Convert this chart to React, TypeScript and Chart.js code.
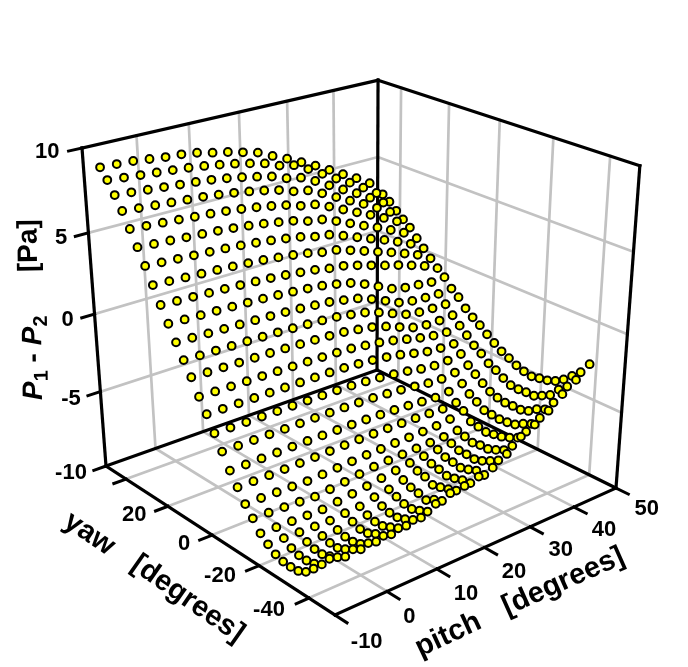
import React, { useEffect, useRef } from "react";
import { Chart, registerables } from "chart.js";

Chart.register(...registerables);

const pitchValues = [-10, -7, -4, -1, 2, 5, 8, 11, 14, 17, 20, 23, 26, 29, 32, 35, 38, 41, 44, 47];
const yawValues = [42, 39, 36, 33, 30, 27, 24, 21, 18, 15, 12, 9, 6, 3, 0, -3, -6, -9, -12, -15, -18, -21, -24, -27, -30, -33, -36, -39, -42];

const yaw42 = [9.33,9.29,9.24,9.13,9.02,8.96,8.83,8.61,8.43,8.19,7.95,7.52,7.13,6.68,6.24,5.74,5.23,4.74,4.18,3.21];
const yaw39 = [8.77,8.68,8.59,8.51,8.42,8.33,8.21,8.06,7.89,7.68,7.45,7.09,6.89,6.42,5.89,5.36,4.86,4.30,3.71,2.89];
const yaw36 = [8.08,8.00,7.91,7.83,7.74,7.66,7.55,7.41,7.24,7.04,6.82,6.48,6.28,5.84,5.33,4.83,4.35,3.82,3.26,2.47];
const yaw33 = [7.34,7.26,7.18,7.10,7.02,6.95,6.84,6.71,6.55,6.37,6.16,5.84,5.66,5.24,4.76,4.29,3.84,3.34,2.82,2.08];
const yaw30 = [6.48,6.41,6.34,6.27,6.19,6.12,6.03,5.91,5.77,5.60,5.41,5.12,4.96,4.58,4.15,3.72,3.31,2.86,2.39,1.72];
const yaw27 = [5.61,5.54,5.48,5.41,5.35,5.28,5.19,5.08,4.95,4.79,4.62,4.35,4.20,3.85,3.45,3.05,2.68,2.26,1.82,1.20];
const yaw24 = [4.71,4.65,4.59,4.53,4.47,4.41,4.33,4.23,4.11,3.97,3.81,3.57,3.43,3.11,2.75,2.40,2.06,1.68,1.28,0.72];
const yaw21 = [3.79,3.74,3.68,3.63,3.58,3.52,3.45,3.37,3.26,3.14,2.99,2.78,2.66,2.37,2.06,1.74,1.44,1.10,0.75,0.25];
const yaw18 = [2.82,2.77,2.73,2.68,2.64,2.59,2.53,2.46,2.37,2.26,2.14,1.96,1.85,1.61,1.34,1.06,0.81,0.52,0.21,-0.21];
const yaw15 = [1.92,1.88,1.84,1.81,1.77,1.73,1.68,1.62,1.54,1.45,1.35,1.17,0.96,0.61,0.18,-0.25,-0.46,-0.55,-0.66,-0.61];
const yaw12 = [1.03,1.00,0.96,0.93,0.90,0.86,0.82,0.77,0.70,0.62,0.53,0.36,0.18,-0.15,-0.55,-0.95,-1.13,-1.20,-1.24,-1.17];
const yaw9 = [0.19,0.16,0.14,0.11,0.09,0.06,0.03,-0.02,-0.07,-0.13,-0.20,-0.35,-0.51,-0.80,-1.16,-1.51,-1.66,-1.70,-1.72,-1.54];
const yaw6 = [-0.61,-0.63,-0.65,-0.68,-0.70,-0.72,-0.75,-0.79,-0.83,-0.88,-0.94,-1.08,-1.23,-1.49,-1.83,-2.16,-2.28,-2.30,-2.24,-2.07];
const yaw3 = [-1.55,-1.56,-1.58,-1.59,-1.60,-1.62,-1.64,-1.66,-1.69,-1.72,-1.77,-1.88,-2.00,-2.18,-2.40,-2.62,-2.78,-2.85,-2.72,-2.46];
const yaw0 = [-2.37,-2.38,-2.38,-2.39,-2.39,-2.40,-2.41,-2.42,-2.43,-2.46,-2.52,-2.60,-2.72,-2.88,-3.10,-3.30,-3.38,-3.41,-3.14,-2.77];
const yawM3 = [-3.28,-3.28,-3.29,-3.29,-3.30,-3.30,-3.31,-3.32,-3.33,-3.36,-3.42,-3.50,-3.60,-3.72,-3.90,-4.00,-3.98,-3.86,-3.59,-3.16];
const yawM6 = [-4.15,-4.15,-4.15,-4.15,-4.16,-4.16,-4.16,-4.17,-4.18,-4.20,-4.24,-4.30,-4.38,-4.48,-4.60,-4.65,-4.55,-4.38,-3.92,-3.52];
const yawM9 = [-5.06,-5.05,-5.04,-5.03,-5.02,-5.02,-5.02,-5.03,-5.03,-5.05,-5.08,-5.12,-5.17,-5.25,-5.32,-5.25,-5.05,-4.75,-4.34,-3.85];
const yawM12 = [-5.82,-5.82,-5.82,-5.81,-5.80,-5.78,-5.76,-5.74,-5.72,-5.72,-5.72,-5.73,-5.75,-5.78,-5.82,-5.75,-5.50,-5.11,-4.57,-4.08];
const yawM15 = [-6.59,-6.60,-6.62,-6.64,-6.67,-6.62,-6.57,-6.52,-6.47,-6.45,-6.42,-6.40,-6.38,-6.35,-6.25,-6.05,-5.78,-5.43,-4.86,-4.33];
const yawM18 = [-7.20,-7.24,-7.28,-7.33,-7.39,-7.30,-7.20,-7.08,-6.97,-6.93,-6.90,-6.87,-6.85,-6.82,-6.75,-6.50,-6.10,-5.60,-5.10,-4.50];
const yawM21 = [-7.85,-7.87,-7.89,-7.91,-7.93,-7.82,-7.70,-7.58,-7.45,-7.32,-7.20,-7.12,-7.05,-7.00,-6.90,-6.60,-6.15,-5.69,-5.13,-4.60];
const yawM24 = [-8.25,-8.27,-8.30,-8.33,-8.36,-8.28,-8.23,-8.02,-7.90,-7.67,-7.45,-7.35,-7.28,-7.20,-7.05,-6.70,-6.20,-5.66,-5.09,-4.49];
const yawM27 = [-8.58,-8.60,-8.62,-8.65,-8.67,-8.54,-8.51,-8.32,-8.10,-7.88,-7.56,-7.45,-7.35,-7.20,-6.95,-6.60,-6.15,-5.67,-5.08,-4.39];
const yawM30 = [-8.74,-8.76,-8.78,-8.80,-8.81,-8.73,-8.65,-8.47,-8.29,-7.98,-7.82,-7.60,-7.45,-7.25,-6.95,-6.50,-6.05,-5.50,-4.83,-4.20];
const yawM33 = [-8.77,-8.79,-8.81,-8.82,-8.83,-8.70,-8.64,-8.48,-8.34,-8.15,-7.70,-7.50,-7.30,-7.10,-6.75,-6.30,-5.75,-5.14,-4.55,-3.86];
const yawM36 = [-8.72,-8.68,-8.64,-8.61,-8.68,-8.45,-8.43,-8.32,-8.16,-7.85,-7.55,-7.35,-7.10,-6.85,-6.50,-6.05,-5.50,-4.90,-3.96,-3.40];
const yawM39 = [-8.47,-8.43,-8.40,-8.32,-8.34,-8.29,-8.21,-8.08,-7.94,-7.65,-7.37,-7.27,-7.12,-6.54,-5.97,-5.41,-4.87,-4.22,-3.52,-2.93];
const yawM42 = [-7.97,-7.78,-8.07,-8.02,-7.96,-7.90,-7.76,-7.65,-7.17,-6.88,-6.80,-6.58,-6.38,-5.87,-5.12,-4.70,-4.16,-3.44,-2.86,-2.18];

const surfaceRows = [yaw42,yaw39,yaw36,yaw33,yaw30,yaw27,yaw24,yaw21,yaw18,yaw15,yaw12,yaw9,yaw6,yaw3,yaw0,yawM3,yawM6,yawM9,yawM12,yawM15,yawM18,yawM21,yawM24,yawM27,yawM30,yawM33,yawM36,yawM39,yawM42];

const pitchTicks = [-10, 0, 10, 20, 30, 40, 50];
const yawTicks = [40, 20, 0, -20, -40];
const pTicks = [10, 5, 0, -5, -10];
const pitchLabels = ["-10", "0", "10", "20", "30", "40", "50"];
const yawLabels = ["20", "0", "-20", "-40"];
const pLabels = ["10", "5", "0", "-5", "-10"];

// camera: corner points of the box on the page
const floor = { x00: 106, y00: 466, x10: 377, y10: 370, x01: 335, y01: 615, x11: 616, y11: 488 };
const lift = { x: 82, y: 148, r: -0.085 };

function makeProjection() {
  const { x00, y00, x10, y10, x01, y01, x11, y11 } = floor;
  const dx1 = x10 - x11, dx2 = x01 - x11, sx = x00 - x10 + x11 - x01;
  const dy1 = y10 - y11, dy2 = y01 - y11, sy = y00 - y10 + y11 - y01;
  const det = dx1 * dy2 - dx2 * dy1;
  const g = (sx * dy2 - dx2 * sy) / det;
  const h = (dx1 * sy - sx * dy1) / det;
  const ax = x10 * (1 + g) - x00, ay = y10 * (1 + g) - y00;
  const bx = x01 * (1 + h) - x00, by = y01 * (1 + h) - y00;
  const cx = lift.x * (1 + lift.r) - x00, cy = lift.y * (1 + lift.r) - y00;
  return (pitch: number, yaw: number, p: number) => {
    const u = (pitch + 10) / 60, v = (50 - yaw) / 100, t = (p + 10) / 20;
    const w = 1 + g * u + h * v + lift.r * t;
    return { x: (x00 + ax * u + bx * v + cx * t) / w, y: (y00 + ay * u + by * v + cy * t) / w };
  };
}
const project = makeProjection();

const GREY = "#c2c2c2";
const BLACK = "#000000";

function seg(a: number[], b: number[], color: string, width: number, order: number) {
  return {
    type: "scatter" as const,
    data: [project(a[0], a[1], a[2]), project(b[0], b[1], b[2])],
    showLine: true,
    borderColor: color,
    borderWidth: width,
    pointRadius: 0,
    order,
    borderCapStyle: "square" as const,
  };
}

function buildDatasets() {
  const out: any[] = [];
  // grey grid
  for (const pt of [0, 10, 20, 30, 40]) {
    out.push(seg([pt, 50, -10], [pt, 50, 10], GREY, 2.7, 3));
    out.push(seg([pt, 50, -10], [pt, -50, -10], GREY, 2.7, 3));
  }
  for (const yw of yawTicks) {
    out.push(seg([50, yw, -10], [50, yw, 10], GREY, 2.7, 3));
    out.push(seg([-10, yw, -10], [50, yw, -10], GREY, 2.7, 3));
  }
  for (const pv of [5, 0, -5]) {
    out.push(seg([-10, 50, pv], [50, 50, pv], GREY, 2.7, 3));
    out.push(seg([50, 50, pv], [50, -50, pv], GREY, 2.7, 3));
  }
  // black frame
  const frame = [
    [[-10, 50, -10], [-10, 50, 10]],
    [[50, 50, -10], [50, 50, 10]],
    [[50, -50, -10], [50, -50, 10]],
    [[-10, 50, 10], [50, 50, 10]],
    [[50, 50, 10], [50, -50, 10]],
    [[-10, 50, -10], [50, 50, -10]],
    [[50, 50, -10], [50, -50, -10]],
    [[-10, 50, -10], [-10, -50, -10]],
    [[-10, -50, -10], [50, -50, -10]],
  ];
  for (const [a, b] of frame) out.push(seg(a, b, BLACK, 3.2, 2));
  // ticks
  for (const pt of pitchTicks) out.push(seg([pt, -50, -10], [pt, -54.5, -10], BLACK, 3, 2));
  for (const yw of yawTicks) out.push(seg([-10, yw, -10], [-12.4, yw, -10], BLACK, 3, 2));
  for (const pv of pTicks) out.push(seg([-10, 50, pv], [-12.4, 50, pv], BLACK, 3, 2));
  // surface points
  const points: { x: number; y: number }[] = [];
  yawValues.forEach((yw, j) => {
    pitchValues.forEach((pt, i) => points.push(project(pt, yw, surfaceRows[j][i])));
  });
  out.push({
    type: "scatter" as const,
    data: points,
    showLine: false,
    pointRadius: 3.9,
    pointBackgroundColor: "#ffff00",
    pointBorderColor: "#000000",
    pointBorderWidth: 2,
    order: 1,
  });
  return out;
}

const FONT = '"Liberation Sans", Arial, sans-serif';

const textPlugin = {
  id: "labels3d",
  afterDraw(chart: any) {
    const ctx = chart.ctx as CanvasRenderingContext2D;
    const text = (s: string, x: number, y: number, size: number, rot = 0, style = "bold") => {
      ctx.save();
      ctx.translate(x, y);
      ctx.rotate((rot * Math.PI) / 180);
      ctx.font = `${style} ${size}px ${FONT}`;
      ctx.fillStyle = "#000";
      ctx.textAlign = "center";
      ctx.textBaseline = "middle";
      ctx.fillText(s, 0, 0);
      ctx.restore();
    };
    const pPos = [[47.3, 152], [61, 238], [67.7, 320], [71, 399], [71, 473]];
    pLabels.forEach((s, i) => text(s, pPos[i][0], pPos[i][1], 22));
    const yPos = [[134.3, 514.7], [184, 544], [220, 576], [269, 610]];
    yawLabels.forEach((s, i) => text(s, yPos[i][0], yPos[i][1], 22));
    const xPos = [[366.7, 641.7], [409.3, 616.7], [466, 594], [514, 572.3], [560.7, 550], [604, 530], [646.7, 509.3]];
    pitchLabels.forEach((s, i) => text(s, xPos[i][0], xPos[i][1], 22));
    text("yaw", 89.3, 534, 29, 34);
    text("[degrees]", 187.7, 599, 29, 35);
    text("pitch", 448.3, 635, 29, -25);
    text("[degrees]", 563.3, 581.7, 29, -24);
    // vertical title with subscripts
    ctx.save();
    ctx.translate(42, 400);
    ctx.rotate((-90.8 * Math.PI) / 180);
    ctx.fillStyle = "#000";
    ctx.textBaseline = "alphabetic";
    ctx.textAlign = "left";
    const parts: [string, string, number][] = [
      ["P", `italic bold 28px ${FONT}`, 0],
      ["1", `bold 20px ${FONT}`, 6],
      [" - ", `bold 28px ${FONT}`, 0],
      ["P", `italic bold 28px ${FONT}`, 0],
      ["2", `bold 20px ${FONT}`, 6],
    ];
    let at = 0;
    for (const [s, f, dy] of parts) {
      ctx.font = f;
      ctx.fillText(s, at, dy);
      at += ctx.measureText(s).width;
    }
    ctx.font = `bold 28px ${FONT}`;
    ctx.fillText("[Pa]", 128, -3);
    ctx.restore();
  },
};

export default function App() {
  const ref = useRef<HTMLCanvasElement | null>(null);
  useEffect(() => {
    if (!ref.current) return;
    const chart = new Chart(ref.current, {
      type: "scatter",
      data: { datasets: buildDatasets() },
      options: {
        animation: false,
        responsive: false,
        devicePixelRatio: 1,
        layout: { padding: 0, autoPadding: false },
        plugins: { legend: { display: false }, tooltip: { enabled: false } },
        scales: {
          x: { type: "linear", min: 0, max: 688, display: false },
          y: { type: "linear", min: 0, max: 667, reverse: true, display: false },
        },
      },
      plugins: [textPlugin],
    });
    return () => chart.destroy();
  }, []);
  return (
    <div style={{ position: "absolute", left: 0, top: 0, width: 688, height: 667, background: "#fff" }}>
      <canvas ref={ref} width={688} height={667} style={{ display: "block" }} />
    </div>
  );
}
